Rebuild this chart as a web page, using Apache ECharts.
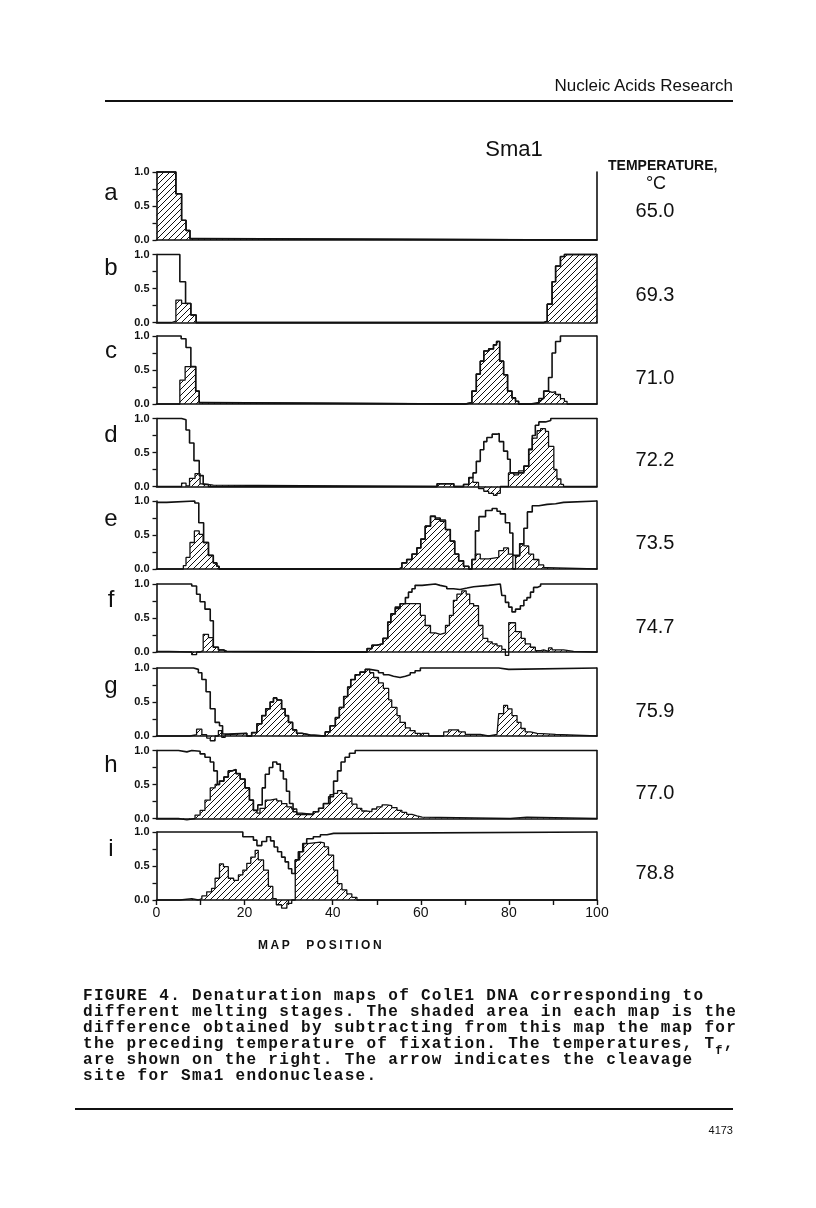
<!DOCTYPE html>
<html>
<head>
<meta charset="utf-8">
<script src="https://cdn.jsdelivr.net/npm/echarts@6.0.0/dist/echarts.min.js"></script>
<style>
  body { margin: 0; background: #fff; }
  #page { position: relative; width: 816px; height: 1208px; overflow: hidden; background: #fff; }
  #chart { position: absolute; left: 0; top: 0; width: 816px; height: 1208px; }
  .txt { position: absolute; color: #111; white-space: pre; }
  .rule { position: absolute; background: #111; height: 2px; }
  #journal { right: 83px; top: 76px; font: 17px "Liberation Sans", Arial, sans-serif; }
  #axisTitle { left: 258px; top: 938px; font: bold 12px "Liberation Sans", Arial, sans-serif; letter-spacing: 2.6px; word-spacing: 8px; }
  #caption { left: 83px; top: 988px; font: bold 16px/16px "Liberation Mono", "DejaVu Sans Mono", monospace; letter-spacing: 1.3px; }
  #caption sub { font-size: 12px; vertical-align: -6px; line-height: 0; }
  #pageNo { right: 83px; top: 1124px; font: 11px "Liberation Sans", Arial, sans-serif; }
</style>
</head>
<body>
<div id="page">
  <div id="chart"></div>
  <div class="txt" id="journal">Nucleic Acids Research</div>
  <div class="rule" style="left:105px;top:100px;width:628px;"></div>
  <div class="txt" id="axisTitle">MAP POSITION</div>
  <div class="txt" id="caption">FIGURE 4. Denaturation maps of ColE1 DNA corresponding to
different melting stages. The shaded area in each map is the
difference obtained by subtracting from this map the map for
the preceding temperature of fixation. The temperatures, T<sub>f</sub>,
are shown on the right. The arrow indicates the cleavage
site for Sma1 endonuclease.</div>
  <div class="rule" style="left:75px;top:1108px;width:658px;"></div>
  <div class="txt" id="pageNo">4173</div>
</div>
<script>
// panel letters and fixation temperatures (deg C)
const panelNames = ['a', 'b', 'c', 'd', 'e', 'f', 'g', 'h', 'i']
const temps = ['65.0', '69.3', '71.0', '72.2', '73.5', '74.7', '75.9', '77.0', '78.8']
const xTicks = [0, 20, 40, 60, 80, 100]
const smaSite = 81.5

// each map is a list of [map position, fraction melted] step points
const mapA = [[0, 1.0], [4.4, 0.68], [5.7, 0.29], [6.7, 0.14], [7.6, 0.02], [9.0, 0], [100, 0]]

const profB = [[0, 1.0], [5.3, 0.6], [6.6, 0.28], [7.8, 0.11], [9.0, 0], [87.9, 0.02], [88.7, 0.27], [89.8, 0.6],
  [90.6, 0.83], [91.7, 0.97], [92.6, 1.0], [100, 1.0]]
const diffB = [[0, 0], [3.4, 0.02], [4.4, 0.33], [5.7, 0.28], [7.8, 0.11], [9.0, 0], [87.9, 0.02], [88.7, 0.27],
  [89.8, 0.6], [90.6, 0.83], [91.7, 0.97], [92.6, 1.0], [100, 1.0]]

const profC = [[0, 1.0], [5.6, 0.96], [6.7, 0.83], [7.8, 0.55], [8.9, 0.19], [9.7, 0.02], [10.6, 0], [70.1, 0.02],
  [71.6, 0.19], [72.6, 0.44], [73.5, 0.63], [74.3, 0.78], [75.4, 0.81], [76.5, 0.87], [77.2, 0.92], [77.9, 0.63],
  [78.8, 0.43], [79.7, 0.19], [80.7, 0.09], [81.5, 0.04], [82.2, 0], [84.9, 0.02], [86.8, 0.08], [87.9, 0.19],
  [89.0, 0.39], [89.8, 0.75], [90.6, 0.92], [91.7, 1.0], [100, 1.0]]
const diffC = [[0, 0], [5.3, 0.35], [6.5, 0.55], [8.9, 0.19], [9.7, 0.02], [10.6, 0], [70.1, 0.02], [71.6, 0.19],
  [72.6, 0.44], [73.5, 0.63], [74.3, 0.78], [75.4, 0.81], [76.5, 0.87], [77.2, 0.92], [77.9, 0.63], [78.8, 0.43],
  [79.7, 0.19], [80.7, 0.09], [81.5, 0.04], [82.2, 0], [84.9, 0.01], [86.8, 0.05], [87.4, 0.08], [87.9, 0.19],
  [89.0, 0.17], [89.8, 0.18], [90.6, 0.14], [91.7, 0.08], [92.6, 0.04], [93.2, 0], [100, 0]]

const profD = [[0, 1.0], [5.7, 0.98], [6.7, 0.83], [7.5, 0.64], [8.5, 0.38], [9.7, 0.16], [10.6, 0.03], [11.8, 0],
  [63.7, 0.04], [67.5, 0], [69.7, 0.03], [70.9, 0.13], [71.85, 0.2], [72.6, 0.37], [73.5, 0.54], [74.3, 0.66],
  [75.0, 0.72], [76.2, 0.77], [77.3, 0.78], [77.8, 0.66], [78.8, 0.52], [79.7, 0.4], [80.3, 0.2], [82.2, 0.2],
  [83.4, 0.3], [84.5, 0.55], [85.3, 0.75], [86.0, 0.9], [86.8, 0.95], [88.3, 0.97], [89.5, 1.0], [100, 1.0]]
const diffD = [[0, 0], [5.7, 0.05], [6.7, 0.01], [7.5, 0.12], [8.75, 0.19], [9.9, 0.04], [10.8, 0.02], [12.9, 0],
  [63.7, 0.04], [67.5, 0], [69.7, 0.03], [70.9, 0.13], [71.85, 0.06], [73.1, -0.03], [74.3, -0.07], [75.4, -0.1],
  [76.5, -0.13], [77.3, -0.1], [78.05, 0], [79.9, 0.2], [81.1, 0.17], [82.2, 0.23], [83.4, 0.3], [84.5, 0.54],
  [85.3, 0.71], [86.4, 0.82], [87.2, 0.85], [88.3, 0.81], [89.0, 0.59], [90.2, 0.25], [90.9, 0.11], [91.8, 0.03],
  [92.4, 0], [100, 0]]

const profE = [[0, 0.98], [2.3, 1.0], [8.7, 0.97], [9.6, 0.68], [10.7, 0.39], [11.8, 0.2], [12.9, 0.09], [13.7, 0.04],
  [14.2, 0], [55.0, 0.02], [55.7, 0.09], [56.8, 0.14], [58.0, 0.22], [59.1, 0.31], [60.0, 0.44], [61.0, 0.63],
  [62.2, 0.78], [63.3, 0.75], [64.4, 0.72], [65.6, 0.58], [66.7, 0.41], [67.7, 0.22], [68.6, 0.12], [69.7, 0.04],
  [70.9, 0], [71.6, 0.14], [72.4, 0.56], [73.2, 0.77], [74.7, 0.86], [76.2, 0.89], [77.3, 0.85], [78.05, 0.81],
  [79.2, 0.68], [80.2, 0.53], [80.9, 0.2], [82.45, 0.37], [83.4, 0.6], [84.2, 0.84], [85.3, 0.93], [86.8, 0.95],
  [88.7, 0.96], [90.6, 0.98], [92.4, 1.0], [100, 1.0]]
const diffE = [[0, 0], [6.1, 0.05], [6.7, 0.17], [7.6, 0.39], [8.6, 0.56], [9.7, 0.51], [10.6, 0.39], [11.8, 0.2],
  [12.9, 0.09], [13.7, 0.04], [14.2, 0], [55.0, 0.02], [55.7, 0.09], [56.8, 0.14], [58.0, 0.22], [59.1, 0.31],
  [60.0, 0.44], [61.0, 0.63], [62.2, 0.77], [63.3, 0.73], [64.4, 0.7], [65.6, 0.58], [66.7, 0.41], [67.7, 0.22],
  [68.6, 0.12], [69.7, 0.04], [70.9, 0], [71.6, 0.14], [72.4, 0.22], [73.5, 0.15], [75.4, 0.17], [77.7, 0.27],
  [78.8, 0.31], [79.9, 0.22], [80.9, 0], [81.5, 0.19], [82.45, 0.37], [83.4, 0.34], [84.5, 0.22], [85.6, 0.14],
  [86.8, 0.06], [87.9, 0.02], [88.7, 0], [100, 0]]

const profF = [[0, 1.0], [8.0, 0.97], [9.1, 0.85], [9.9, 0.74], [11.0, 0.63], [12.2, 0.46], [12.9, 0.07], [14.05, 0.03],
  [15.2, 0.01], [15.9, 0], [47.8, 0.05], [48.9, 0.1], [50.0, 0.12], [51.4, 0.2], [52.5, 0.44], [53.2, 0.56],
  [54.2, 0.66], [55.3, 0.71], [56.5, 0.8], [57.2, 0.88], [58.0, 0.93], [58.7, 0.98], [60.3, 1.0], [63.3, 0.98],
  [64.4, 0.96], [65.9, 0.93], [67.4, 0.92], [68.9, 0.94], [70.5, 0.96], [72.0, 0.98], [75.4, 1.0], [78.05, 0.98],
  [78.4, 0.83], [79.2, 0.73], [79.96, 0.66], [80.7, 0.59], [81.5, 0.63], [82.6, 0.68], [83.4, 0.76], [84.1, 0.8],
  [84.9, 0.88], [85.6, 0.95], [86.4, 0.97], [87.2, 1.0], [100, 1.0]]
const diffF = [[0, 0.01], [2.8, 0], [8.0, -0.04], [9.1, 0], [9.9, 0.02], [10.6, 0.26], [11.8, 0.21], [12.9, 0.07],
  [14.05, 0.03], [15.2, 0.01], [15.9, 0], [47.8, 0.05], [48.9, 0.1], [50.0, 0.12], [51.4, 0.2], [52.5, 0.44],
  [53.2, 0.56], [54.2, 0.64], [55.3, 0.71], [59.9, 0.54], [61.0, 0.39], [62.2, 0.28], [63.3, 0.26], [64.4, 0.28],
  [65.6, 0.39], [66.5, 0.54], [67.4, 0.76], [68.2, 0.85], [69.3, 0.9], [70.3, 0.85], [71.1, 0.71], [72.0, 0.68],
  [73.1, 0.39], [74.1, 0.2], [75.2, 0.15], [76.2, 0.12], [77.3, 0.09], [78.4, 0.04], [79.2, -0.05], [79.96, 0.43],
  [81.5, 0.3], [82.8, 0.2], [83.7, 0.12], [84.9, 0.07], [86.0, 0.02], [87.2, 0.03], [87.9, 0.01], [89.0, 0.06],
  [89.8, 0.03], [92.4, 0.01], [94.7, 0], [100, 0]]

const profG = [[0, 1.0], [8.4, 0.98], [9.5, 0.93], [10.3, 0.83], [11.25, 0.65], [12.2, 0.4], [13.3, 0.2], [14.3, 0.15],
  [15.0, 0.03], [16.3, 0.04], [20.5, 0], [21.6, 0.05], [22.8, 0.18], [23.9, 0.3], [24.8, 0.4], [25.8, 0.5],
  [26.55, 0.56], [27.3, 0.53], [28.4, 0.4], [29.2, 0.3], [29.96, 0.2], [30.9, 0.09], [31.8, 0.04], [33.0, 0.015],
  [34.9, 0], [38.3, 0.06], [39.4, 0.15], [40.6, 0.27], [41.5, 0.42], [42.5, 0.58], [43.4, 0.72], [44.1, 0.83],
  [45.1, 0.9], [46.2, 0.94], [47.4, 0.98], [48.4, 0.96], [50.4, 0.93], [51.5, 0.9], [52.7, 0.88], [53.8, 0.86],
  [55.3, 0.88], [56.5, 0.9], [57.6, 0.93], [58.7, 0.96], [59.9, 1.0], [77.7, 0.98], [79.96, 1.0], [100, 1.0]]
const diffG = [[0, 0], [7.6, 0.02], [9.1, 0.1], [10.3, 0.02], [11.4, -0.03], [12.2, -0.07], [13.3, 0], [14.05, 0.08],
  [14.8, -0.02], [15.6, 0.02], [16.3, 0.04], [20.5, 0], [21.6, 0.05], [22.8, 0.18], [23.9, 0.3], [24.8, 0.4],
  [25.8, 0.5], [26.55, 0.56], [27.3, 0.53], [28.4, 0.4], [29.2, 0.3], [29.96, 0.2], [30.9, 0.09], [31.8, 0.04],
  [33.0, 0.015], [34.9, 0], [38.3, 0.06], [39.4, 0.15], [40.6, 0.27], [41.5, 0.42], [42.5, 0.58], [43.4, 0.72],
  [44.1, 0.83], [45.1, 0.9], [46.2, 0.94], [47.4, 0.98], [48.4, 0.93], [49.3, 0.86], [50.4, 0.78], [51.5, 0.7],
  [52.7, 0.53], [53.4, 0.42], [54.6, 0.3], [55.3, 0.2], [56.5, 0.12], [57.6, 0.08], [58.7, 0.04], [59.9, 0],
  [60.3, 0.04], [61.8, 0], [65.2, 0.06], [66.3, 0.09], [68.6, 0.06], [70.1, 0.025], [73.5, 0], [75.4, 0.025],
  [77.3, 0], [77.7, 0.33], [78.8, 0.45], [79.7, 0.4], [80.7, 0.3], [81.85, 0.2], [82.75, 0.11], [83.7, 0.06],
  [84.9, 0.04], [86.4, 0.025], [90.6, 0], [100, 0]]

const profH = [[0, 1.0], [5.0, 0.98], [6.9, 1.0], [8.0, 0.99], [9.9, 0.95], [11.0, 0.9], [12.2, 0.83], [13.0, 0.7],
  [13.8, 0.5], [14.3, 0.55], [15.3, 0.61], [16.3, 0.7], [17.1, 0.72], [18.05, 0.66], [19.0, 0.58], [20.1, 0.45],
  [21.1, 0.27], [22.0, 0.12], [23.0, 0.2], [24.0, 0.45], [24.7, 0.65], [25.6, 0.75], [26.4, 0.83], [27.3, 0.8],
  [28.1, 0.7], [28.8, 0.58], [29.5, 0.4], [30.2, 0.22], [31.0, 0.1], [31.85, 0.06], [35.6, 0.1], [36.8, 0.15],
  [37.9, 0.22], [39.4, 0.35], [40.2, 0.55], [41.1, 0.7], [41.9, 0.83], [42.8, 0.9], [43.8, 0.96], [45.1, 1.0],
  [100, 1.0]]
const diffH = [[0, 0], [5.0, -0.02], [6.9, 0], [8.75, 0.05], [9.9, 0.12], [11.0, 0.27], [12.2, 0.45], [13.3, 0.5],
  [14.3, 0.55], [15.3, 0.61], [16.3, 0.7], [17.1, 0.72], [18.05, 0.66], [19.0, 0.58], [20.1, 0.45], [21.1, 0.27],
  [22.0, 0.12], [22.8, 0.08], [23.5, 0.15], [24.7, 0.27], [25.8, 0.29], [27.3, 0.26], [28.4, 0.22], [29.6, 0.17],
  [30.7, 0.14], [31.85, 0.08], [33.0, 0.06], [35.6, 0.1], [36.8, 0.15], [37.9, 0.22], [39.05, 0.32], [40.2, 0.37],
  [41.1, 0.41], [42.1, 0.37], [43.2, 0.3], [44.35, 0.21], [45.5, 0.15], [46.6, 0.11], [47.8, 0.1], [48.9, 0.14],
  [50.0, 0.17], [51.2, 0.2], [52.3, 0.19], [53.4, 0.16], [54.6, 0.12], [55.7, 0.09], [56.8, 0.06], [58.0, 0.04],
  [59.1, 0.02], [60.3, 0], [80.3, 0.02], [84.1, 0], [100, 0]]

const profI = [[0, 1.0], [19.6, 0.93], [22.0, 0.88], [22.8, 0.8], [23.9, 0.86], [25.0, 0.93], [25.9, 0.87],
  [26.7, 0.78], [27.5, 0.71], [28.4, 0.63], [29.2, 0.56], [29.96, 0.46], [30.7, 0.39], [31.5, 0.59], [32.2, 0.71],
  [33.2, 0.83], [34.1, 0.9], [35.6, 0.93], [37.2, 0.96], [38.7, 0.98], [40.2, 1.0], [100, 1.0]]
const diffI = [[0, 0], [5.3, 0.02], [8.0, 0], [9.5, 0.02], [10.3, 0.06], [11.4, 0.12], [12.5, 0.17], [13.3, 0.32],
  [14.3, 0.53], [15.2, 0.49], [16.3, 0.32], [17.5, 0.29], [18.6, 0.37], [19.6, 0.44], [20.5, 0.54], [21.4, 0.63],
  [22.4, 0.73], [23.1, 0.59], [24.3, 0.44], [25.4, 0.2], [26.4, 0.02], [27.2, -0.07], [28.4, -0.12], [29.6, -0.05],
  [30.7, 0], [31.5, 0.59], [32.5, 0.71], [33.4, 0.83], [34.3, 0.85], [37.2, 0.84], [38.1, 0.78], [39.05, 0.66],
  [40.2, 0.44], [41.1, 0.24], [42.1, 0.15], [43.2, 0.09], [44.35, 0.04], [45.5, 0], [100, 0]]

const profiles = [mapA, profB, profC, profD, profE, profF, profG, profH, profI]
const diffs = [mapA, diffB, diffC, diffD, diffE, diffF, diffG, diffH, diffI]

// layout of the nine stacked panels
const panelTops = [172, 254.5, 336, 418.5, 501, 584, 668, 750.5, 832]
const panelH = 68
const letterY = [193, 268, 351, 435, 519, 600, 686, 765, 849]
const tempY = [211, 295, 378, 460, 543, 627, 711, 793, 873]

const ink = '#111'
const font = '"Liberation Sans", Arial, sans-serif'

// diagonal hatch used for the difference areas
const hatch = document.createElement('canvas')
hatch.width = 6
hatch.height = 6
const hc = hatch.getContext('2d')
hc.strokeStyle = ink
hc.lineWidth = 1
hc.beginPath()
hc.moveTo(0, 6); hc.lineTo(6, 0)
hc.moveTo(-1, 1); hc.lineTo(1, -1)
hc.moveTo(5, 7); hc.lineTo(7, 5)
hc.stroke()

const chart = echarts.init(document.getElementById('chart'), null, { renderer: 'canvas' })

const grid = panelTops.map(t => ({ left: 156.5, top: t, width: 440.5, height: panelH }))

const xAxis = panelTops.map((t, k) => ({
  gridIndex: k,
  type: 'value',
  min: 0,
  max: 100,
  interval: 10,
  axisLine: { show: true, onZero: false, lineStyle: { color: ink, width: 1.6 } },
  axisTick: { show: k === 8, length: 5, lineStyle: { color: ink, width: 1.4 } },
  axisLabel: {
    show: k === 8, color: ink, fontFamily: font, fontSize: 14, margin: 6,
    formatter: v => xTicks.includes(v) ? String(v) : ''
  },
  splitLine: { show: false }
}))

const yAxis = []
panelTops.forEach((t, k) => {
  yAxis.push({
    gridIndex: k,
    type: 'value',
    min: 0,
    max: 1,
    interval: 0.25,
    axisLine: { show: true, lineStyle: { color: ink, width: 1.6 } },
    axisTick: { show: true, length: 4, lineStyle: { color: ink, width: 1.3 } },
    axisLabel: {
      color: ink, fontFamily: font, fontSize: 11, fontWeight: 'bold', margin: 7,
      formatter: v => (Math.round(v * 4) % 2 === 0) ? v.toFixed(1) : ''
    },
    splitLine: { show: false }
  })
  yAxis.push({
    gridIndex: k,
    type: 'value',
    position: 'right',
    min: 0,
    max: 1,
    axisLine: { show: true, lineStyle: { color: ink, width: 1.6 } },
    axisTick: { show: false },
    axisLabel: { show: false },
    splitLine: { show: false }
  })
})

const series = []
panelTops.forEach((t, k) => {
  series.push({
    name: 'diff ' + panelNames[k],
    type: 'line',
    step: 'end',
    xAxisIndex: k,
    yAxisIndex: 2 * k,
    data: diffs[k],
    symbol: 'none',
    clip: false,
    silent: true,
    lineStyle: { color: ink, width: 1.3 },
    areaStyle: { color: { image: hatch, repeat: 'repeat' }, opacity: 1, origin: 0 },
    z: 2
  })
  series.push({
    name: 'map ' + panelNames[k],
    type: 'line',
    step: 'end',
    xAxisIndex: k,
    yAxisIndex: 2 * k,
    data: profiles[k],
    symbol: 'none',
    clip: false,
    silent: true,
    lineStyle: { color: ink, width: 1.6 },
    z: 3,
    markLine: k === 0 ? {
      silent: true,
      symbol: ['none', 'arrow'],
      symbolSize: [7, 10],
      label: { show: false },
      lineStyle: { color: ink, width: 1.3, type: 'solid' },
      data: [[{ coord: [smaSite, 1.08] }, { coord: [smaSite, 0.62] }]]
    } : undefined
  })
})

const textEl = (text, x, y, f, align) => ({
  type: 'text',
  x, y,
  silent: true,
  style: {
    text, font: f, fill: ink,
    align: align || 'center', textAlign: align || 'center',
    verticalAlign: 'middle', textVerticalAlign: 'middle'
  }
})

const graphic = []
panelNames.forEach((n, k) => graphic.push(textEl(n, 111, letterY[k], '24px ' + font)))
temps.forEach((tp, k) => graphic.push(textEl(tp, 655, tempY[k], '20px ' + font)))
graphic.push(textEl('Sma1', 514, 150, '22px ' + font))
graphic.push(textEl('TEMPERATURE,', 608, 166, 'bold 14px ' + font, 'left'))
graphic.push(textEl('°C', 656, 184, '18px ' + font))

chart.setOption({
  animation: false,
  backgroundColor: '#fff',
  grid,
  xAxis,
  yAxis,
  series,
  graphic
})
</script>
</body>
</html>
